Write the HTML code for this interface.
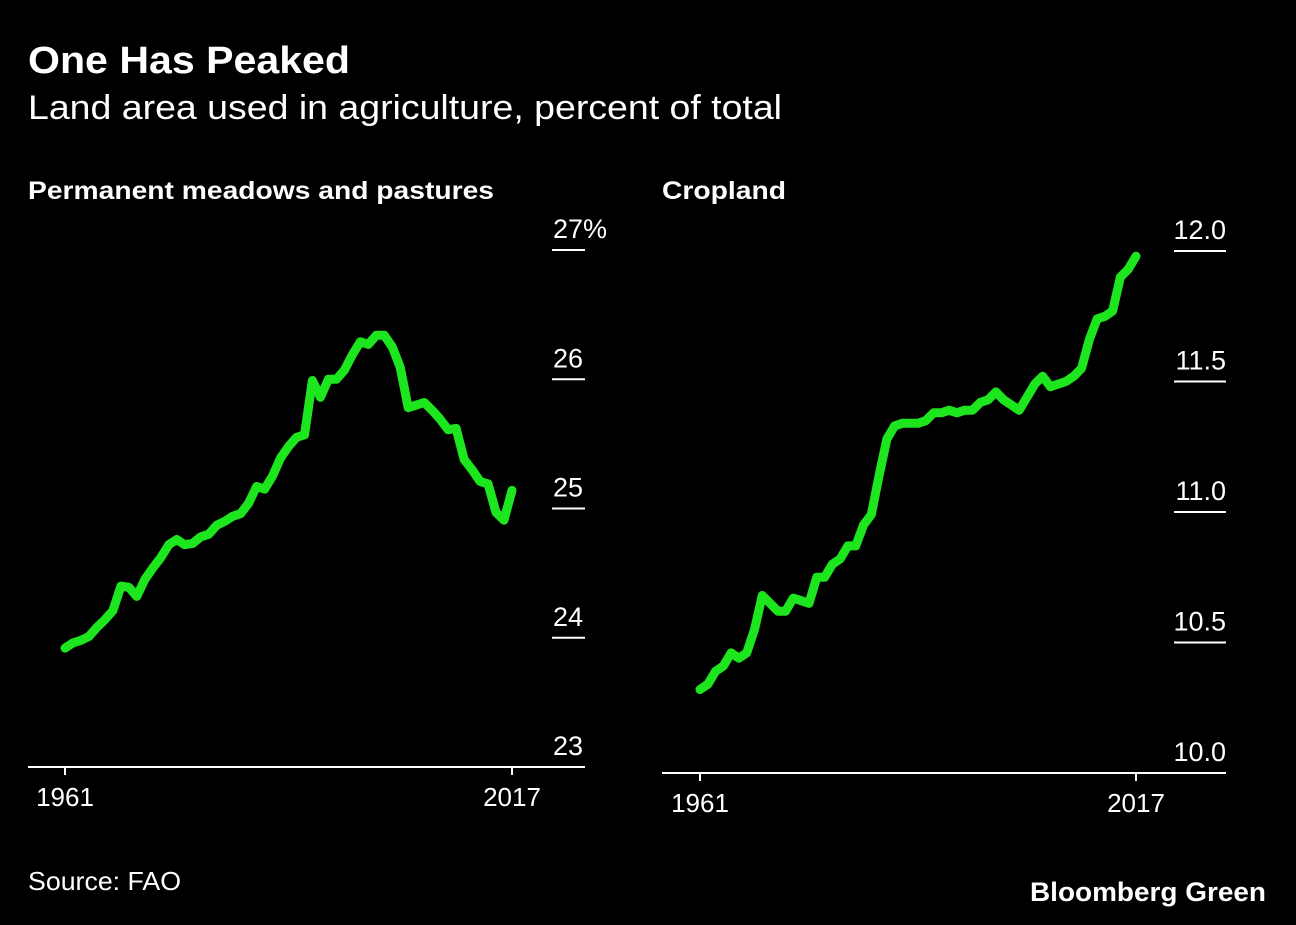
<!DOCTYPE html>
<html><head><meta charset="utf-8"><style>
body{margin:0;background:#000;}
svg text{font-family:"Liberation Sans",sans-serif;fill:#fff;}
</style></head><body>
<svg id="c" width="1296" height="920" viewBox="0 0 1296 920">
<rect width="1296" height="920" fill="#000"/>
<text x="28" y="73" font-size="38" font-weight="bold" textLength="322" lengthAdjust="spacingAndGlyphs">One Has Peaked</text>
<text x="28" y="119" font-size="34" textLength="754" lengthAdjust="spacingAndGlyphs">Land area used in agriculture, percent of total</text>
<text x="28" y="199" font-size="25" font-weight="bold" textLength="466" lengthAdjust="spacingAndGlyphs">Permanent meadows and pastures</text>
<text x="662" y="199" font-size="25" font-weight="bold" textLength="124" lengthAdjust="spacingAndGlyphs">Cropland</text>
<text x="28" y="890" font-size="26" textLength="153" lengthAdjust="spacingAndGlyphs">Source: FAO</text>
<text x="1266" y="901" font-size="27" font-weight="bold" text-anchor="end" textLength="236" lengthAdjust="spacingAndGlyphs">Bloomberg Green</text>
<g id="left"></g><g id="right"></g>
</svg>
<script>
const years=[];for(let y=1961;y<=2017;y++)years.push(y);
const pastureValues=[23.92,23.96,23.98,24.01,24.08,24.14,24.21,24.40,24.39,24.32,24.45,24.54,24.62,24.72,24.76,24.72,24.73,24.78,24.80,24.87,24.90,24.94,24.96,25.04,25.17,25.15,25.25,25.39,25.48,25.55,25.57,25.99,25.86,26.00,26.00,26.07,26.19,26.29,26.27,26.34,26.34,26.25,26.09,25.78,25.80,25.82,25.76,25.69,25.61,25.62,25.38,25.30,25.21,25.19,24.97,24.91,25.14];
const croplandValues=[10.32,10.34,10.39,10.41,10.46,10.44,10.46,10.55,10.68,10.65,10.62,10.62,10.67,10.66,10.65,10.75,10.75,10.80,10.82,10.87,10.87,10.95,10.99,11.14,11.28,11.33,11.34,11.34,11.34,11.35,11.38,11.38,11.39,11.38,11.39,11.39,11.42,11.43,11.46,11.43,11.41,11.39,11.44,11.49,11.52,11.48,11.49,11.50,11.52,11.55,11.66,11.74,11.75,11.77,11.90,11.93,11.98];
const pastureTicks=[23,24,25,26,27];
const pastureTickLabels=["23","24","25","26","27%"];
const croplandTicks=[10,10.5,11,11.5,12];
const croplandTickLabels=["10.0","10.5","11.0","11.5","12.0"];
const xTickYears=[1961,2017];
const NS="http://www.w3.org/2000/svg";
function mk(t,a,p){const e=document.createElementNS(NS,t);for(const k in a)e.setAttribute(k,a[k]);p.appendChild(e);return e;}
function panel(g,vals,ticks,labels,cfg){
  const X=y=>cfg.x0+(y-1961)*(cfg.x1-cfg.x0)/56;
  const Y=v=>cfg.yb+(v-ticks[0])*(cfg.yt-cfg.yb)/(ticks[ticks.length-1]-ticks[0]);
  const base=mk('line',{x1:cfg.bl,x2:cfg.br,y1:cfg.yb,y2:cfg.yb,stroke:'#fff','stroke-width':2},g);
  
  
  ticks.forEach((t,i)=>{
    if(i>0){const l=mk('line',{x1:cfg.tl,x2:cfg.tr,y1:Y(t),y2:Y(t),stroke:'#fff','stroke-width':2},g);
      
      }
    const tx=mk('text',{x:cfg.lx,y:Y(t)-12,'font-size':27,'text-anchor':cfg.anchor},g);tx.textContent=labels[i];
    
    
  });
  xTickYears.forEach(yr=>{
    const l=mk('line',{x1:X(yr),x2:X(yr),y1:cfg.yb,y2:cfg.yb+8,stroke:'#fff','stroke-width':2},g);
    
    
    const tx=mk('text',{x:X(yr),y:cfg.yb+39,'font-size':26,'text-anchor':'middle'},g);tx.textContent=yr;
    
    
  });
  const d=vals.map((v,i)=>(i?'L':'M')+X(years[i]).toFixed(1)+','+Y(v).toFixed(1)).join('');
  const p=mk('path',{d:d,fill:'none',stroke:'#1ee61e','stroke-width':9,'stroke-linejoin':'round','stroke-linecap':'round'},g);
  
  
}
panel(document.getElementById('left'),pastureValues,pastureTicks,pastureTickLabels,{x0:65,x1:512,yb:767,yt:250,bl:28,br:585,tl:552,tr:585,lx:553,anchor:'start',name:'pasture-line'});
panel(document.getElementById('right'),croplandValues,croplandTicks,croplandTickLabels,{x0:700,x1:1136,yb:773,yt:251,bl:662,br:1226,tl:1174,tr:1226,lx:1226,anchor:'end',name:'cropland-line'});
</script>
</body></html>
